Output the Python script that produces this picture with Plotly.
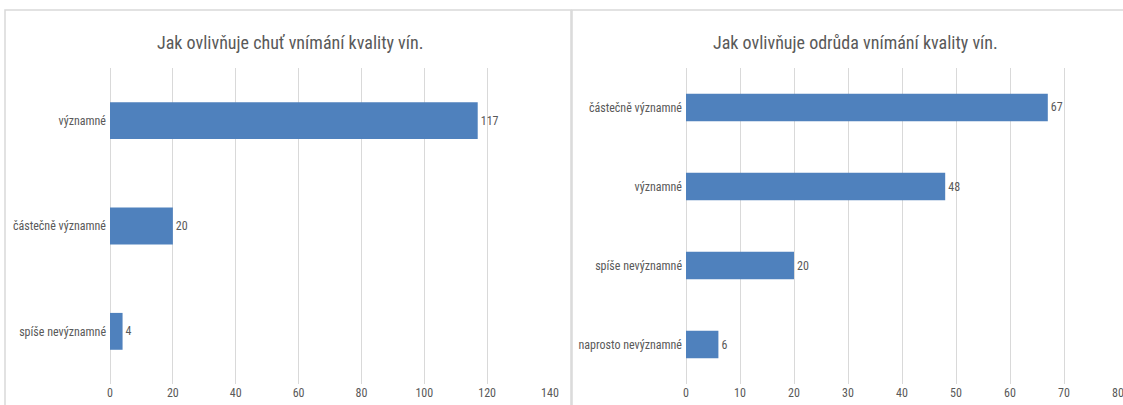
import plotly.graph_objects as go

W, H = 1123, 405

left_title = "Jak ovlivňuje chuť vnímání kvality vín."
left_cats = ["významné", "částečně významné", "spíše nevýznamné"]
left_vals = [117, 20, 4]
left_ticks = [0, 20, 40, 60, 80, 100, 120, 140]

right_title = "Jak ovlivňuje odrůda vnímání kvality vín."
right_cats = ["částečně významné", "významné", "spíše nevýznamné", "naprosto nevýznamné"]
right_vals = [67, 48, 20, 6]
right_ticks = [0, 10, 20, 30, 40, 50, 60, 70, 80]

BAR = "#4F81BD"
GRID = "#D9D9D9"
TXT = "#595959"
FONT = "Liberation Sans Narrow, Arial Narrow, Roboto Condensed, sans-serif"

fig = go.Figure()
fig.add_trace(go.Bar(
    x=left_vals, y=left_cats, orientation="h", marker_color=BAR, width=0.35,
    text=left_vals, textposition="outside", cliponaxis=False,
    textfont=dict(size=12, color=TXT, family=FONT),
    xaxis="x", yaxis="y", showlegend=False, hoverinfo="x+y"))
fig.add_trace(go.Bar(
    x=right_vals, y=right_cats, orientation="h", marker_color=BAR, width=0.35,
    text=right_vals, textposition="outside", cliponaxis=False,
    textfont=dict(size=12, color=TXT, family=FONT),
    xaxis="x2", yaxis="y2", showlegend=False, hoverinfo="x+y"))

def px(v):
    return v / W

def py(v):
    return 1 - v / H

axcommon = dict(showgrid=True, gridcolor=GRID, gridwidth=1, zeroline=True,
                zerolinecolor=GRID, zerolinewidth=1, showline=False,
                tickfont=dict(size=12, color=TXT, family=FONT), ticks="",
                ticklabeloverflow="allow",
                fixedrange=True, automargin=False)
ycommon = dict(showgrid=False, zeroline=False, showline=False,
               tickfont=dict(size=12, color=TXT, family=FONT), ticks="",
               ticklabelstandoff=3,
               fixedrange=True, automargin=False, categoryorder="array")

fig.update_layout(
    template="none",
    width=W, height=H,
    margin=dict(l=0, r=0, t=0, b=0, pad=0),
    paper_bgcolor="white", plot_bgcolor="white",
    font=dict(family=FONT, color=TXT),
    xaxis=dict(domain=[px(110), px(550)], range=[0, 140], tickvals=left_ticks,
               anchor="y", **axcommon),
    yaxis=dict(domain=[py(384), py(68)], anchor="x",
               categoryarray=left_cats[::-1], **ycommon),
    xaxis2=dict(domain=[px(686), px(1118)], range=[0, 80], tickvals=right_ticks,
                anchor="y2", **axcommon),
    yaxis2=dict(domain=[py(384), py(68)], anchor="x2",
                categoryarray=right_cats[::-1], **ycommon),
    bargap=0.65,
)

# panel borders
fig.add_shape(type="rect", xref="paper", yref="paper",
              x0=px(5), x1=px(571), y0=py(410), y1=py(10),
              line=dict(color=GRID, width=1.5), fillcolor="rgba(0,0,0,0)", layer="below")
fig.add_shape(type="rect", xref="paper", yref="paper",
              x0=px(572), x1=px(1130), y0=py(410), y1=py(10),
              line=dict(color=GRID, width=1.5), fillcolor="rgba(0,0,0,0)", layer="below")

fig.add_annotation(text=left_title, xref="paper", yref="paper", x=px(290), y=py(42),
                   showarrow=False, font=dict(size=18, color=TXT, family=FONT),
                   xanchor="center", yanchor="middle")
fig.add_annotation(text=right_title, xref="paper", yref="paper", x=px(855), y=py(42),
                   showarrow=False, font=dict(size=18, color=TXT, family=FONT),
                   xanchor="center", yanchor="middle")

fig.write_html("out.html",
               config={"displayModeBar": False},
               post_script="document.body.style.margin='0';document.body.style.overflow='hidden';")
